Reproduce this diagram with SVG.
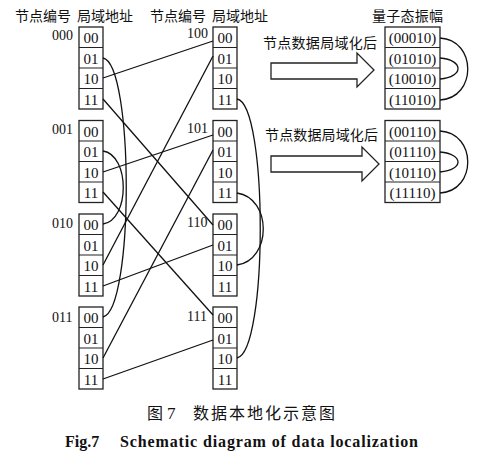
<svg xmlns="http://www.w3.org/2000/svg" width="488" height="456" viewBox="0 0 488 456">
<style>
.box{fill:#fff;stroke:#222;stroke-width:1.3}
.sep{stroke:#222;stroke-width:1.2}
.t{font-family:"Liberation Serif",serif;font-size:15px;fill:#111;text-anchor:middle}
.lb{font-family:"Liberation Serif",serif;font-size:14px;fill:#111}
.cn{font-family:"Noto Sans CJK SC",sans-serif;font-size:14px;fill:#111}
.ln{fill:none;stroke:#111;stroke-width:1.3}
.arr{fill:#fff;stroke:#222;stroke-width:1.3}
</style>
<rect width="488" height="456" fill="#fff"/>
<g id="headers">
<text class="cn" x="15" y="21">节点编号</text>
<text class="cn" x="77" y="21">局域地址</text>
<text class="cn" x="150" y="21">节点编号</text>
<text class="cn" x="212" y="21">局域地址</text>
<text class="cn" x="372" y="21" textLength="71">量子态振幅</text>
</g>
<g id="node000">
<text class="lb" x="52" y="40">000</text>
<rect class="box" x="79" y="27" width="24" height="82"/>
<path class="sep" d="M79,47.5H103M79,68H103M79,88.5H103"/>
<text class="t" x="91" y="43">00</text><text class="t" x="91" y="63.5">01</text><text class="t" x="91" y="84">10</text><text class="t" x="91" y="104.5">11</text>
</g>
<g id="node001">
<text class="lb" x="52" y="134">001</text>
<rect class="box" x="79" y="120.5" width="24" height="82"/>
<path class="sep" d="M79,141H103M79,161.5H103M79,182H103"/>
<text class="t" x="91" y="136.5">00</text><text class="t" x="91" y="157">01</text><text class="t" x="91" y="177.5">10</text><text class="t" x="91" y="198">11</text>
</g>
<g id="node010">
<text class="lb" x="52" y="228">010</text>
<rect class="box" x="79" y="214" width="24" height="82"/>
<path class="sep" d="M79,234.5H103M79,255H103M79,275.5H103"/>
<text class="t" x="91" y="230">00</text><text class="t" x="91" y="250.5">01</text><text class="t" x="91" y="271">10</text><text class="t" x="91" y="291.5">11</text>
</g>
<g id="node011">
<text class="lb" x="52" y="322">011</text>
<rect class="box" x="79" y="307" width="24" height="82"/>
<path class="sep" d="M79,327.5H103M79,348H103M79,368.5H103"/>
<text class="t" x="91" y="323">00</text><text class="t" x="91" y="343.5">01</text><text class="t" x="91" y="364">10</text><text class="t" x="91" y="384.5">11</text>
</g>
<g id="node100">
<text class="lb" x="187" y="38">100</text>
<rect class="box" x="213" y="27" width="24" height="82"/>
<path class="sep" d="M213,47.5H237M213,68H237M213,88.5H237"/>
<text class="t" x="225" y="43">00</text><text class="t" x="225" y="63.5">01</text><text class="t" x="225" y="84">10</text><text class="t" x="225" y="104.5">11</text>
</g>
<g id="node101">
<text class="lb" x="187" y="133">101</text>
<rect class="box" x="213" y="120.5" width="24" height="82"/>
<path class="sep" d="M213,141H237M213,161.5H237M213,182H237"/>
<text class="t" x="225" y="136.5">00</text><text class="t" x="225" y="157">01</text><text class="t" x="225" y="177.5">10</text><text class="t" x="225" y="198">11</text>
</g>
<g id="node110">
<text class="lb" x="187" y="227">110</text>
<rect class="box" x="213" y="214" width="24" height="82"/>
<path class="sep" d="M213,234.5H237M213,255H237M213,275.5H237"/>
<text class="t" x="225" y="230">00</text><text class="t" x="225" y="250.5">01</text><text class="t" x="225" y="271">10</text><text class="t" x="225" y="291.5">11</text>
</g>
<g id="node111">
<text class="lb" x="187" y="321">111</text>
<rect class="box" x="213" y="307" width="24" height="82"/>
<path class="sep" d="M213,327.5H237M213,348H237M213,368.5H237"/>
<text class="t" x="225" y="323">00</text><text class="t" x="225" y="343.5">01</text><text class="t" x="225" y="364">10</text><text class="t" x="225" y="384.5">11</text>
</g>
<g id="amp1">
<rect class="box" x="385" y="27" width="55" height="82"/>
<path class="sep" d="M385,47.5H440M385,68H440M385,88.5H440"/>
<text class="t" x="412.5" y="43">(00010)</text><text class="t" x="412.5" y="63.5">(01010)</text><text class="t" x="412.5" y="84">(10010)</text><text class="t" x="412.5" y="104.5">(11010)</text>
</g>
<g id="amp2">
<rect class="box" x="385" y="120.5" width="55" height="82"/>
<path class="sep" d="M385,141H440M385,161.5H440M385,182H440"/>
<text class="t" x="412.5" y="136.5">(00110)</text><text class="t" x="412.5" y="157">(01110)</text><text class="t" x="412.5" y="177.5">(10110)</text><text class="t" x="412.5" y="198">(11110)</text>
</g>
<g id="arrow1">
<text class="cn" x="263" y="48" textLength="114">节点数据局域化后</text>
<polygon class="arr" points="271,63 357,63 357,53 374,70 357,87 357,79 271,79"/>
</g>
<g id="arrow2">
<text class="cn" x="265" y="140" textLength="113">节点数据局域化后</text>
<polygon class="arr" points="271,156 362,156 362,147 379,164 362,181 362,172 271,172"/>
</g>
<g id="connectors">
<path class="ln" d="M103,78L213,41"/>
<path class="ln" d="M103,99L213,225"/>
<path class="ln" d="M103,172L213,135"/>
<path class="ln" d="M103,192L213,315"/>
<path class="ln" d="M103,265L213,56"/>
<path class="ln" d="M103,286L213,245"/>
<path class="ln" d="M103,358L213,150"/>
<path class="ln" d="M103,379L213,340"/>
<path class="ln" d="M103,58C134,64 134,310 103,317"/>
<path class="ln" d="M103,151C130,155 130,220 103,224"/>
<path class="ln" d="M237,99C268,104 268,352 237,358"/>
<path class="ln" d="M237,193C272,198 272,260 237,265"/>
<path class="ln" d="M440,38C477,40 477,98 440,100"/>
<path class="ln" d="M440,58C464,60 464,77 440,79"/>
<path class="ln" d="M440,131C477,133 477,191 440,193"/>
<path class="ln" d="M440,152C464,154 464,170 440,172"/>
</g>
<g id="caption">
<text x="147" y="419" font-family="Noto Sans CJK SC,sans-serif" font-size="16" fill="#111">图</text>
<text x="167" y="419" font-family="Liberation Serif,serif" font-size="17" fill="#111">7</text>
<text x="193" y="419" font-family="Noto Sans CJK SC,sans-serif" font-size="16" fill="#111" textLength="142">数据本地化示意图</text>
<text x="65" y="447" font-family="Liberation Serif,serif" font-size="16" font-weight="bold" fill="#111">Fig.7</text>
<text x="120" y="447" font-family="Liberation Serif,serif" font-size="16" font-weight="bold" fill="#111" textLength="298">Schematic diagram of data localization</text>
</g>
</svg>
